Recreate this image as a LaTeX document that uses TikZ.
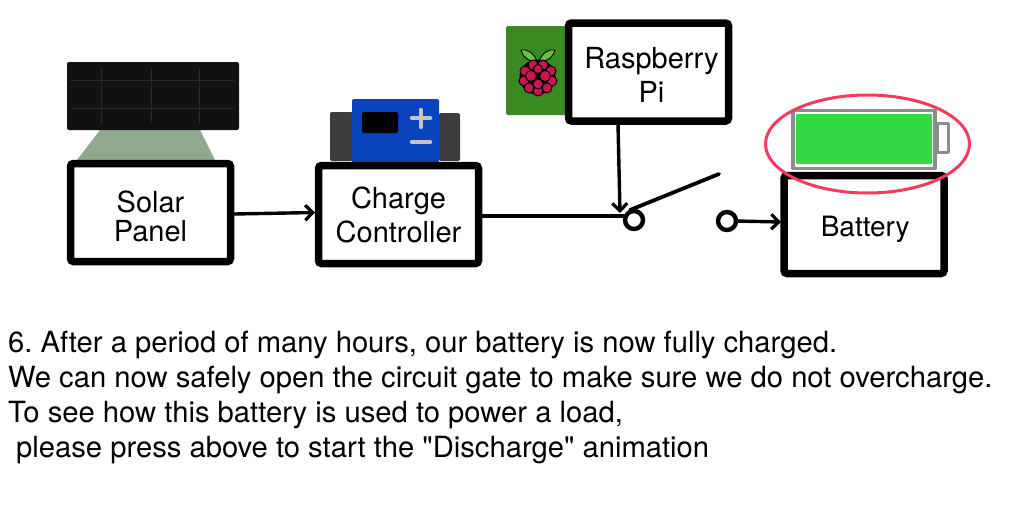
\documentclass[tikz,border=0pt]{standalone}
\usepackage{fontspec}
\setmainfont{TeX Gyre Heros}
\newfontfamily\capfont{TeX Gyre Heros}
\usetikzlibrary{arrows.meta}
\definecolor{panelblack}{HTML}{111111}
\definecolor{panelgrid}{HTML}{2A2A2A}
\definecolor{panelgreen}{HTML}{8FA98F}
\definecolor{ctrlblue}{HTML}{0A43BE}
\definecolor{ctrlgrey}{HTML}{3C3C3C}
\definecolor{signgrey}{HTML}{C4C4C4}
\definecolor{pigreen}{HTML}{3A8A22}
\definecolor{berry}{HTML}{C8174F}
\definecolor{leaf}{HTML}{6CC04A}
\definecolor{batgreen}{HTML}{33D944}
\definecolor{batgrey}{HTML}{8C8C8C}
\definecolor{ringred}{HTML}{F53A5E}
\newcommand{\dropby}[2]{\raisebox{-#1}[\height][\depth]{#2}}
\frenchspacing
\tikzset{
  x=1pt,y=-1pt,
  blockbox/.style={draw=black,line width=7.5pt,rounded corners=3pt,fill=white,minimum width=160pt,minimum height=98pt,align=center,inner sep=0pt,font=\fontsize{29}{34}\selectfont},
  wire/.style={draw=black,line width=3.4pt},
  arrowwire/.style={wire,-{Straight Barb[length=7.5pt,width=15pt,line width=3.2pt]}},
  term/.style={circle,draw=black,line width=4.4pt,minimum size=18pt,inner sep=0pt,fill=white},
  caption/.style={anchor=west,inner sep=0pt,font=\capfont\fontsize{29.2}{30}\selectfont},
  drupe/.style={circle,fill=berry,draw=black,line width=.9pt,minimum size=10pt,inner sep=0pt},
}
\begin{document}
\begin{tikzpicture}
\useasboundingbox (0,0) rectangle (1024,512);
% solar panel
\fill[panelgreen] (100,130) -- (200,130) -- (215,160) -- (77,160) -- cycle;
\fill[panelblack,rounded corners=2pt] (67,62) rectangle (239,130);
\draw[panelgrid,line width=1pt] (71,80) -- (234,80) (71,108) -- (234,108) (101,67) -- (101,124) (151,68) -- (151,122) (199,69) -- (199,124);
% controller
\fill[ctrlgrey,rounded corners=2pt] (330,112) rectangle (353,161);
\fill[ctrlgrey,rounded corners=2pt] (439,113) rectangle (460,161);
\fill[ctrlblue,rounded corners=2pt] (352,99) rectangle (439,163);
\fill[black,rounded corners=2pt] (362,112) rectangle (398,133);
\draw[signgrey,line width=4.5pt,line cap=round] (412,118) -- (430,118) (421,110) -- (421,127) (412,142) -- (430,142);
% Pi logo
\fill[pigreen,rounded corners=1.5pt] (506,26) rectangle (567,115);
\draw[fill=leaf,draw=black,line width=.9pt] (537,61) .. controls (533,52) and (527,49) .. (521,50) .. controls (522,56) and (528,62) .. (537,61);
\draw[fill=leaf,draw=black,line width=.9pt] (539,61) .. controls (543,52) and (549,49) .. (555,50) .. controls (554,56) and (548,62) .. (539,61);
\fill[black] (537.5,77) ellipse (18 and 17.5);
\foreach \px/\py/\pn in {533/65/a,543/65/b,525/71/c,551/71/d,524/81/e,552/81/f,529/88/g,547/88/h,538/91/j}{
  \node[drupe] (drupe\pn) at (\px,\py) {};
}
\node[drupe,minimum size=11pt] (drupem) at (531,76) {};
\node[drupe,minimum size=11pt] (drupen) at (545,76) {};
\node[drupe,minimum size=10pt] (drupep) at (538,84) {};
\node[drupe,minimum size=9pt] (drupeq) at (538,69) {};
% boxes
\node[blockbox,font=\fontsize{29}{29}\selectfont] (solar) at (150.5,212.5) {\dropby{4pt}{Solar}\\\dropby{4pt}{Panel}};
\node[blockbox,font=\fontsize{29}{34.5}\selectfont] (charge) at (398.5,214.5) {\dropby{0.5pt}{Charge}\\\dropby{0.5pt}{Controller}};
\node[blockbox] (pi) at (648.5,72) {\hspace{6pt}\dropby{3pt}{Raspberry}\\\hspace{6pt}\dropby{3pt}{Pi}};
\node[blockbox,font=\fontsize{28}{30}\selectfont] (battery) at (864,224.5) {\hspace{2.5pt}\dropby{5pt}{Battery}};
% switch
\node[term] (t1) at (634,220) {};
\node[term] (t2) at (727,221) {};
\coordinate (lever) at (719,174);
\coordinate (leverbase) at (630,210);
\coordinate (solarout) at (234,214);
\coordinate (chargein) at (315,212.5);
\coordinate (chargeout) at (482,216);
\coordinate (junction) at (625,216);
\coordinate (piout) at (618,124);
\coordinate (pijoin) at (620,213);
\coordinate (batin) at (781,222);
\coordinate (t2out) at (736,221);
\draw[arrowwire] (solarout) -- (chargein);
\draw[wire] (chargeout) -- (junction);
\draw[arrowwire] (piout) -- (pijoin);
\draw[wire,line width=3.8pt,line cap=round] (leverbase) -- (lever);
\draw[arrowwire] (t2out) -- (batin);
% battery icon
\draw[batgrey,line width=3.5pt,fill=white,line join=round] (793,110.5) rectangle (935,168.5);
\draw[batgrey,line width=3pt,fill=white,line join=round] (937,123.5) rectangle (948,152);
\fill[batgreen,rounded corners=1pt] (796,114) rectangle (932,164);
\draw[ringred,line width=3pt] (867.5,144) ellipse (102 and 49);
% caption
\node[caption] (l1) at (8,345) {6. After a period of many hours, our battery is now fully charged.};
\node[caption] (l2) at (8,380) {We can now safely open the circuit gate to make sure we do not overcharge.};
\node[caption] (l3) at (8,415) {To see how this battery is used to power a load,};
\node[caption] (l4) at (16,450) {please press above to start the "Discharge" animation};
\end{tikzpicture}
\end{document}
